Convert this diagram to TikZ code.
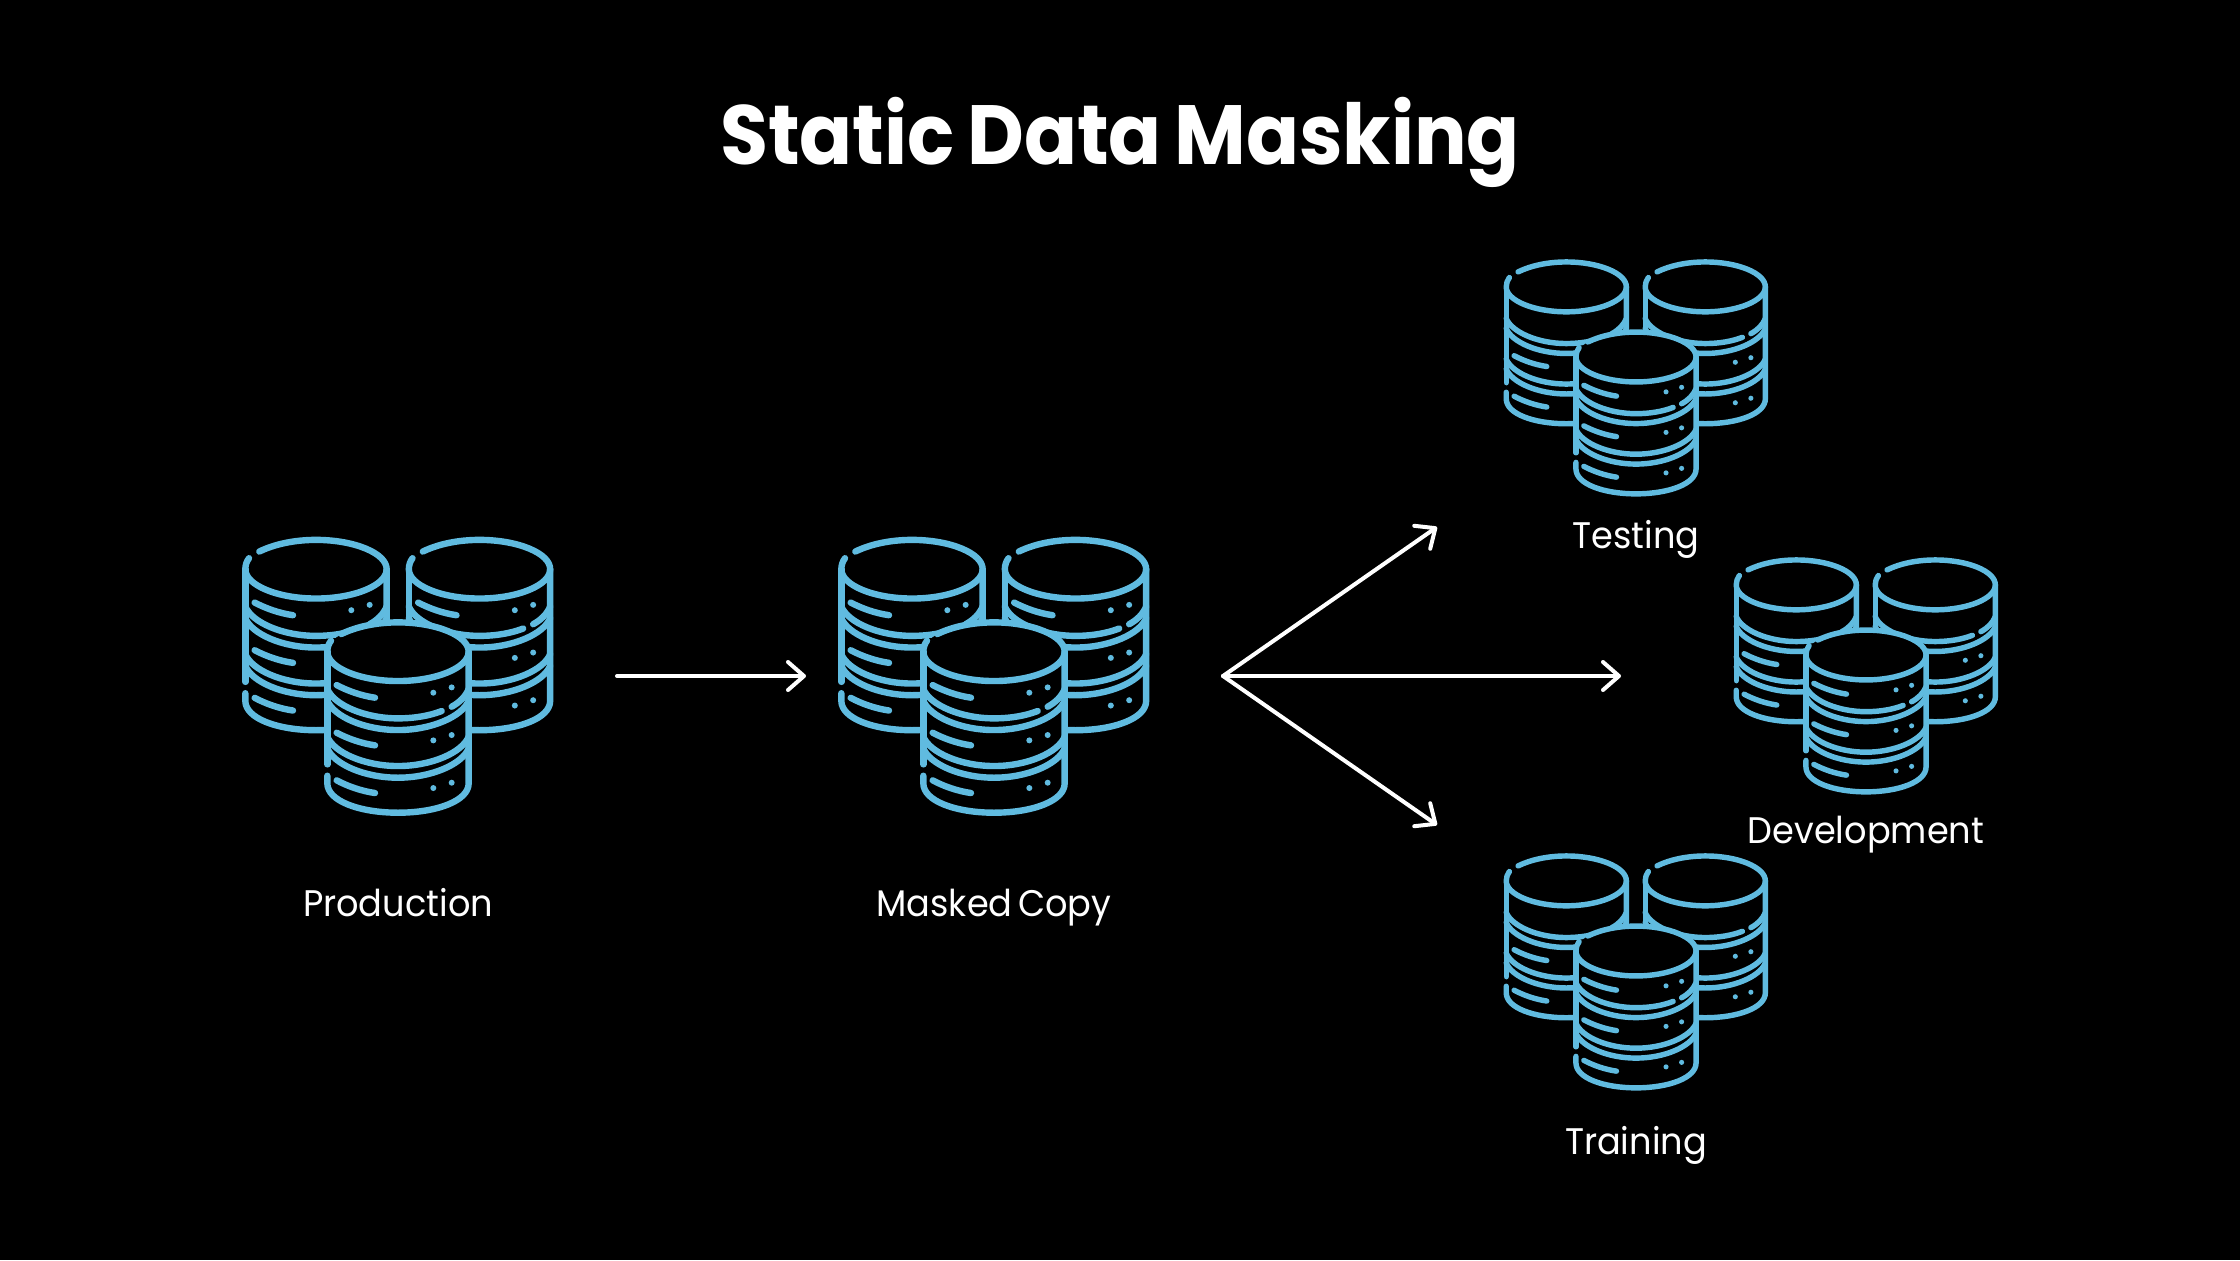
\documentclass[tikz,border=0pt]{standalone}
\usepackage{fontspec}
\setmainfont{Poppins}
\newfontfamily\ttlfont[FakeStretch=0.93,WordSpace=0.75]{Poppins}
\newfontfamily\labfont[FakeStretch=0.95,WordSpace=0.6]{Poppins}
\usetikzlibrary{arrows.meta}
\definecolor{dbblue}{HTML}{60BBE0}
\tikzset{
  x=0.5pt,y=-0.5pt,
  link/.style={draw=white,line width=2pt,line cap=round,line join=round,
    -{Straight Barb[length=8pt,width=14pt,line width=2pt,round]}},
  lab/.style={text=white,font=\labfont\fontsize{18.5}{22}\selectfont,anchor=base,inner sep=0pt},
  ttl/.style={text=white,font=\ttlfont\fontsize{42}{48}\bfseries\selectfont,anchor=base,inner sep=0pt},
}
% x, y, scale, list of rows with dash, list of rows with dots
\newcommand{\onedb}[5]{%
 \begin{scope}[shift={(#1,#2)},x=#3*0.5pt/3,y=-#3*0.5pt/3,line width=#3*3.2pt,draw=dbblue,line cap=round,line join=round]
  \fill[black] (-212,0) -- (-212,395) .. controls (-212,450) and (-110,483) .. (0,483)
     .. controls (110,483) and (212,450) .. (212,395) -- (212,0)
     .. controls (212,-50) and (110,-88) .. (0,-88) .. controls (-110,-88) and (-212,-50) .. (-212,0) -- cycle;
  % top ellipse
  \draw (-170,-53) .. controls (-125,-75) and (-65,-88) .. (0,-88)
     .. controls (115,-88) and (212,-48) .. (212,0)
     .. controls (212,48) and (115,88) .. (0,88)
     .. controls (-115,88) and (-212,48) .. (-212,0)
     .. controls (-212,-12) and (-208,-24) .. (-201,-33);
  % sides
  \draw (212,0) -- (212,395) .. controls (212,448) and (115,483) .. (0,483)
     .. controls (-115,483) and (-212,448) .. (-212,395) -- (-212,372);
  \draw (-212,0) -- (-212,338);
  % disk arcs
  \draw (-212,112) .. controls (-192,160) and (-100,200) .. (0,200) .. controls (50,200) and (95,192) .. (131,178);
  \draw (161,165) .. controls (185,152) and (202,135) .. (212,112);
  \foreach \q in {147,255,290}{
    \draw (-212,\q) .. controls (-192,{\q+48}) and (-100,{\q+88}) .. (0,{\q+88})
       .. controls (100,{\q+88}) and (192,{\q+48}) .. (212,\q);
  }
  \foreach \q in {#4}{
    \draw (-184,{\q+100}) .. controls (-150,{\q+118}) and (-110,{\q+132}) .. (-69,{\q+138});
  }
  \foreach \q in {#5}{
    \fill[dbblue] (106,{\q+123}) circle[radius=9];
    \fill[dbblue] (161,{\q+107}) circle[radius=9];
  }
 \end{scope}
}
% name, x, y, scale, back-cylinder rows
\newcommand{\dbstack}[5]{%
  \coordinate (#1) at (#2,#3);
  \begin{scope}[shift={(#2,#3)}]
    \onedb{-82*#4}{-82.5*#4}{#4}{#5}{#5}
    \onedb{81.5*#4}{-82.5*#4}{#4}{#5}{#5}
    \onedb{0}{0}{#4}{0,143,286}{0,143,286}
  \end{scope}
}
\begin{document}
\begin{tikzpicture}
\useasboundingbox (0,0) rectangle (2240,1260);
\fill[black] (0,0) rectangle (2240,1260);
\node[ttl] (title) at (1120,164) {Static Data Masking};
\dbstack{prod}{398}{651.7}{1}{0,143,286}
\dbstack{mask}{994}{651.7}{1}{0,143,286}
\dbstack{test}{1636}{357}{0.85}{143,286}
\dbstack{devl}{1866}{655}{0.85}{143,286}
\dbstack{trai}{1636}{951}{0.85}{143,286}
\node[lab] (lprod) at (398,916) {Production};
\node[lab] (lmask) at (994,916) {Masked Copy};
\node[lab] (ltest) at (1636,548) {Testing};
\node[lab] (ldevl) at (1866,843) {Development};
\node[lab] (ltrai) at (1636,1154) {Training};
\coordinate (a0) at (617,676);
\coordinate (a1) at (806,676);
\coordinate (f0) at (1223,676);
\coordinate (f1) at (1437,527);
\coordinate (f2) at (1621,676);
\coordinate (f3) at (1437,825);
\draw[link] (a0) -- (a1);
\draw[link] (f0) -- (f1);
\draw[link] (f0) -- (f2);
\draw[link] (f0) -- (f3);
\end{tikzpicture}
\end{document}
